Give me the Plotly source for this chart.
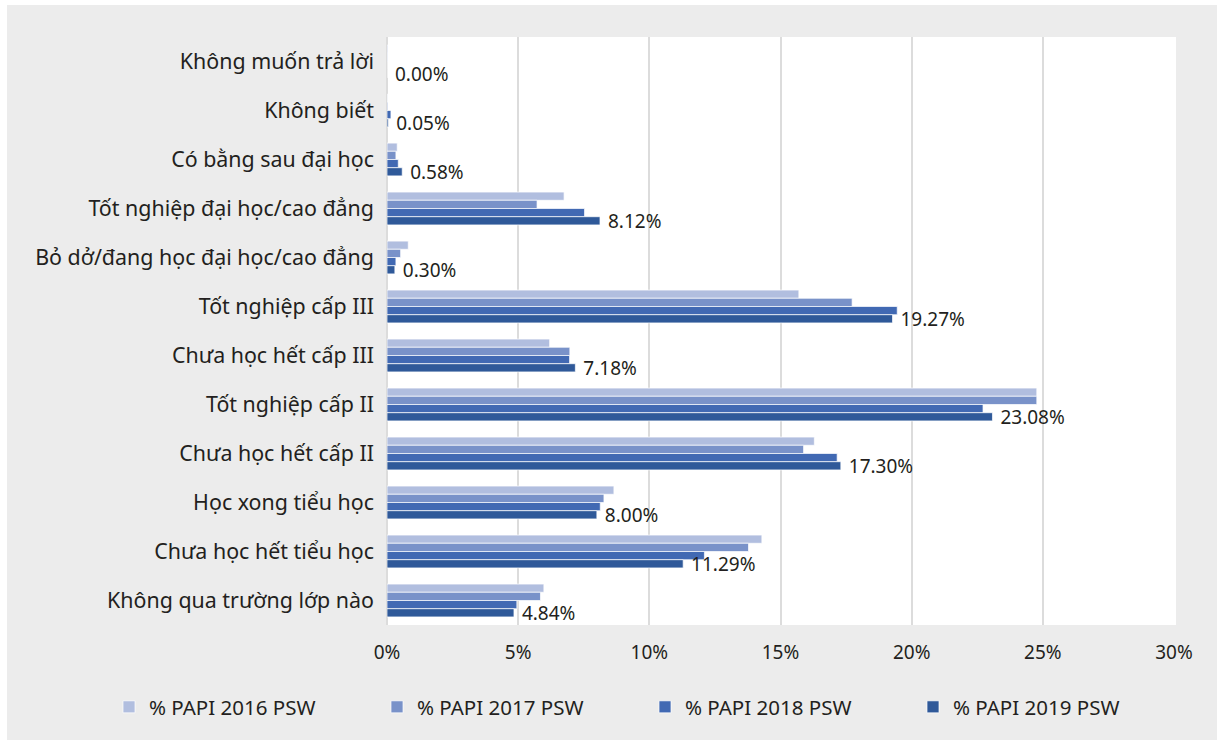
import plotly.graph_objects as go

# Education level categories, listed top to bottom
categories = [
    "Không muốn trả lời",
    "Không biết",
    "Có bằng sau đại học",
    "Tốt nghiệp đại học/cao đẳng",
    "Bỏ dở/đang học đại học/cao đẳng",
    "Tốt nghiệp cấp III",
    "Chưa học hết cấp III",
    "Tốt nghiệp cấp II",
    "Chưa học hết cấp II",
    "Học xong tiểu học",
    "Chưa học hết tiểu học",
    "Không qua trường lớp nào",
]

# Share of respondents (%) per survey year
papi_2016 = [0.03, 0.02, 0.39, 6.75, 0.81, 15.70, 6.20, 24.77, 16.29, 8.65, 14.29, 5.98]
papi_2017 = [0.02, 0.03, 0.34, 5.72, 0.52, 17.73, 6.97, 24.77, 15.88, 8.27, 13.78, 5.85]
papi_2018 = [0.00, 0.15, 0.43, 7.53, 0.34, 19.45, 6.96, 22.72, 17.16, 8.13, 12.10, 4.95]
papi_2019 = [0.00, 0.05, 0.58, 8.12, 0.30, 19.27, 7.18, 23.08, 17.30, 8.00, 11.29, 4.84]

series_names = ["% PAPI 2016 PSW", "% PAPI 2017 PSW", "% PAPI 2018 PSW", "% PAPI 2019 PSW"]
series_values = [papi_2016, papi_2017, papi_2018, papi_2019]
series_colors = ["#b1bedf", "#7992c9", "#4169b3", "#2f5999"]

FONT = "Noto Sans"
TEXT_COLOR = "#231f20"

fig = go.Figure()
for i, (name, vals, color) in enumerate(zip(series_names, series_values, series_colors)):
    is_last = i == len(series_names) - 1
    fig.add_trace(go.Bar(
        name=name,
        y=categories,
        x=vals,
        orientation="h",
        marker=dict(color=color, line=dict(color="rgba(255,255,255,0.7)", width=1)),
        text=[f"{v:.2f}%" for v in vals] if is_last else None,
        texttemplate="\u00a0%{text}" if is_last else None,
        textposition="outside" if is_last else "none",
        constraintext="none",
        cliponaxis=False,
        textfont=dict(family=FONT, size=19, color=TEXT_COLOR),
        hoverinfo="x+y+name",
    ))

# plot-area geometry in pixels
W, H = 1217, 740
L, R, T, B = 387, 43, 37, 115
PW, PH = W - L - R, H - T - B

def px_x(p):
    return (p - L) / PW

def px_y(p):
    return (H - B - p) / PH

shapes = [
    # grey panel behind the whole chart
    dict(type="rect", xref="paper", yref="paper", layer="below",
         x0=px_x(7), x1=px_x(W + 20), y0=px_y(H + 20), y1=px_y(5),
         fillcolor="#ececec", line=dict(width=0)),
    # white plotting area
    dict(type="rect", xref="paper", yref="paper", layer="below",
         x0=px_x(386), x1=px_x(1176), y0=0, y1=1,
         fillcolor="#ffffff", line=dict(width=0)),
]

fig.update_layout(
    width=W, height=H,
    margin=dict(l=L, r=R, t=T, b=B, autoexpand=False),
    paper_bgcolor="#ffffff",
    plot_bgcolor="#ffffff",
    barmode="group",
    bargap=0.33,
    bargroupgap=0,
    font=dict(family=FONT, color=TEXT_COLOR, size=19),
    shapes=shapes,
    showlegend=True,
    legend=dict(
        orientation="h",
        x=px_x(109), xanchor="left",
        y=px_y(707), yanchor="middle",
        font=dict(family=FONT, size=20.5, color=TEXT_COLOR),
        bgcolor="rgba(0,0,0,0)",
        entrywidth=223, entrywidthmode="pixels",
        traceorder="normal",
    ),
    xaxis=dict(
        range=[0, 30],
        tick0=0, dtick=5,
        ticksuffix="%",
        showgrid=True, gridcolor="#dcdcdc", gridwidth=2,
        zeroline=True, zerolinecolor="#dcdcdc", zerolinewidth=2,
        showline=False,
        ticks="", ticklabelstandoff=14,
        tickfont=dict(family=FONT, size=19, color=TEXT_COLOR),
        automargin=False,
        fixedrange=True,
    ),
    yaxis=dict(
        categoryorder="array", categoryarray=categories,
        autorange="reversed",
        showgrid=False, zeroline=False, showline=False,
        ticks="", ticklabelstandoff=12,
        tickfont=dict(family=FONT, size=21.4, color=TEXT_COLOR),
        automargin=False,
        fixedrange=True,
    ),
)

fig.write_html("out.html")
